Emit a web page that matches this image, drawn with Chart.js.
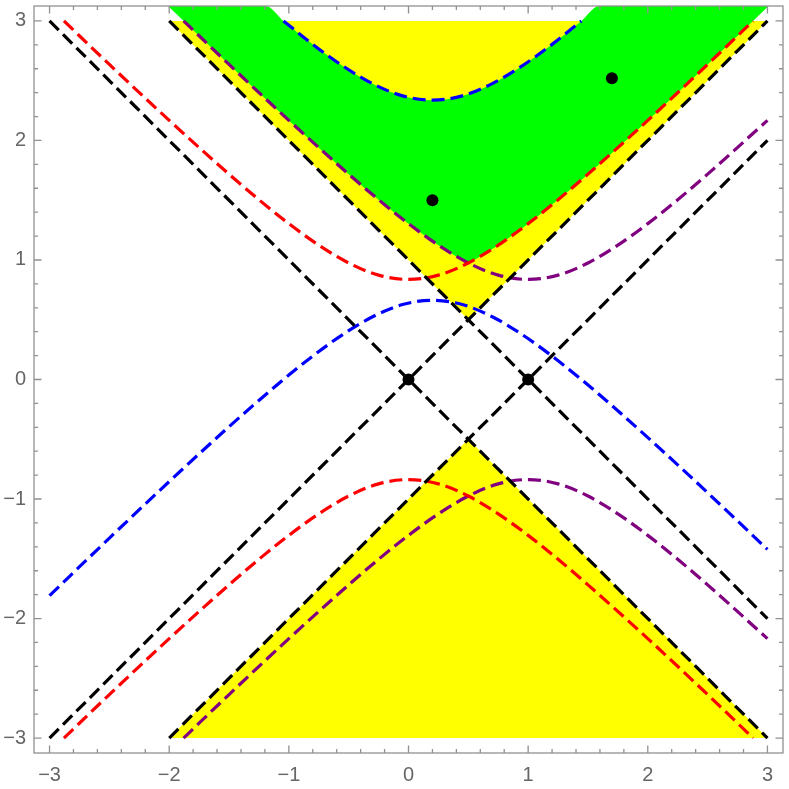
<!DOCTYPE html>
<html>
<head>
<meta charset="utf-8">
<script src="https://cdn.jsdelivr.net/npm/chart.js@4.4.1/dist/chart.umd.min.js"></script>
<style>
  html, body { margin: 0; padding: 0; background: #fff; }
</style>
</head>
<body>
<canvas id="chart" width="789" height="789"></canvas>
<script>
// оси
const tickValues = [-3, -2, -1, 0, 1, 2, 3];
const tickLabels = ['−3', '−2', '−1', '0', '1', '2', '3'];

// заливки
const yellowTop = [[-2, 3], [0.5, 0.5], [3, 3]];
const yellowBottom = [[-2, -3], [0.5, -0.5], [3, -3]];
const greenLower = [[-2.01, 3.125], [-1.5, 2.636], [-1, 2.168], [-0.5, 1.718], [-0.25, 1.504], [0, 1.304], [0.25, 1.124], [0.4, 1.030], [0.45, 1.001], [0.5, 0.975], [0.55, 1.001], [0.6, 1.030], [0.75, 1.124], [1, 1.304], [1.25, 1.504], [1.5, 1.718], [2, 2.168], [2.5, 2.636], [3.01, 3.125]];
const greenUpper = [[-2.01, 3.125], [-1.193, 3.125], [-1.045, 3.0], [-0.8, 2.804], [-0.55, 2.624], [-0.3, 2.475], [-0.05, 2.373], [0.2, 2.337], [0.45, 2.373], [0.7, 2.475], [0.95, 2.624], [1.2, 2.804], [1.445, 3.0], [1.593, 3.125], [3.01, 3.125]];

// черные прямые
const blackA = [[-3, -3], [3, 3]];
const blackB = [[-3, 3], [3, -3]];
const blackC = [[-2, -3], [3, 2]];
const blackD = [[-2, 3], [3, -2]];

// кривые
const redTop = [[-2.88, 3.0], [-2.5, 2.636], [-2, 2.168], [-1.5, 1.718], [-1.25, 1.504], [-1, 1.304], [-0.75, 1.124], [-0.5, 0.975], [-0.25, 0.873], [0, 0.837], [0.25, 0.873], [0.5, 0.975], [0.75, 1.124], [1, 1.304], [1.25, 1.504], [1.5, 1.718], [2, 2.168], [2.5, 2.636], [2.88, 3.0]];
const redBottom = [[-2.88, -3.0], [-2.5, -2.636], [-2, -2.168], [-1.5, -1.718], [-1.25, -1.504], [-1, -1.304], [-0.75, -1.124], [-0.5, -0.975], [-0.25, -0.873], [0, -0.837], [0.25, -0.873], [0.5, -0.975], [0.75, -1.124], [1, -1.304], [1.25, -1.504], [1.5, -1.718], [2, -2.168], [2.5, -2.636], [2.88, -3.0]];
const purpleTop = [[-1.88, 3.0], [-1.5, 2.636], [-1, 2.168], [-0.5, 1.718], [-0.25, 1.504], [0, 1.304], [0.25, 1.124], [0.5, 0.975], [0.75, 0.873], [1, 0.837], [1.25, 0.873], [1.5, 0.975], [1.75, 1.124], [2, 1.304], [2.25, 1.504], [2.5, 1.718], [3, 2.168]];
const purpleBottom = [[-1.88, -3.0], [-1.5, -2.636], [-1, -2.168], [-0.5, -1.718], [-0.25, -1.504], [0, -1.304], [0.25, -1.124], [0.5, -0.975], [0.75, -0.873], [1, -0.837], [1.25, -0.873], [1.5, -0.975], [1.75, -1.124], [2, -1.304], [2.25, -1.504], [2.5, -1.718], [3, -2.168]];
const blueTop = [[-1.045, 3.0], [-0.8, 2.804], [-0.55, 2.624], [-0.3, 2.475], [-0.05, 2.373], [0.2, 2.337], [0.45, 2.373], [0.7, 2.475], [0.95, 2.624], [1.2, 2.804], [1.445, 3.0]];
const blueBottom = [[-3, -1.808], [-2.5, -1.327], [-2, -0.854], [-1.5, -0.395], [-1.05, -0.004], [-0.8, 0.196], [-0.55, 0.376], [-0.3, 0.525], [-0.05, 0.627], [0.2, 0.663], [0.45, 0.627], [0.7, 0.525], [0.95, 0.376], [1.2, 0.196], [1.45, -0.004], [1.7, -0.218], [2.2, -0.668], [2.7, -1.136], [3, -1.422]];

// точки
const dots = [[0, 0], [1, 0], [0.2, 1.5], [1.7, 2.52]];

const toPts = arr => arr.map(([x, y]) => ({x: x, y: y}));

function dashed(data, color, smooth) {
    return {
        data: toPts(data),
        showLine: true,
        borderColor: color,
        borderWidth: 3.2,
        borderDash: [13, 6],
        borderCapStyle: 'butt',
        pointRadius: 0,
        fill: false,
        cubicInterpolationMode: smooth ? 'monotone' : 'default',
        order: 5
    };
}

// рамка и засечки внутрь
const framePlugin = {
    id: 'frame',
    afterDraw(chart) {
        const {ctx, chartArea: a, scales: {x, y}} = chart;
        ctx.save();
        ctx.strokeStyle = '#919191';
        ctx.lineWidth = 1.3;
        ctx.strokeRect(a.left, a.top, a.right - a.left, a.bottom - a.top);
        ctx.beginPath();
        for (let i = -15; i <= 15; i++) {
            const v = i / 5;
            const len = i % 5 === 0 ? 7.5 : 4;
            const px = x.getPixelForValue(v);
            ctx.moveTo(px, a.bottom); ctx.lineTo(px, a.bottom - len);
            ctx.moveTo(px, a.top); ctx.lineTo(px, a.top + len);
            const py = y.getPixelForValue(v);
            ctx.moveTo(a.left, py); ctx.lineTo(a.left + len, py);
            ctx.moveTo(a.right, py); ctx.lineTo(a.right - len, py);
        }
        ctx.stroke();
        ctx.restore();
    }
};

function zeroPad(scale) {
    scale.paddingTop = 0;
    scale.paddingBottom = 0;
    scale.paddingLeft = 0;
    scale.paddingRight = 0;
}

const tickFont = {family: '"Liberation Sans", Arial, sans-serif', size: 20};

new Chart(document.getElementById('chart'), {
    type: 'scatter',
    data: {
        datasets: [
            {data: toPts(greenLower), showLine: true, borderWidth: 0, borderColor: 'rgba(0,0,0,0)', pointRadius: 0,
             backgroundColor: '#00ff00', fill: 1, cubicInterpolationMode: 'monotone', order: 9},
            {data: toPts(greenUpper), showLine: true, borderWidth: 0, borderColor: 'rgba(0,0,0,0)', pointRadius: 0,
             fill: false, cubicInterpolationMode: 'monotone', order: 9},
            {data: toPts(yellowTop), showLine: true, borderWidth: 0, borderColor: 'rgba(0,0,0,0)', pointRadius: 0,
             backgroundColor: '#ffff00', fill: {value: 3}, order: 10},
            {data: toPts(yellowBottom), showLine: true, borderWidth: 0, borderColor: 'rgba(0,0,0,0)', pointRadius: 0,
             backgroundColor: '#ffff00', fill: {value: -3}, order: 10},
            dashed(blackA, '#000000', false),
            dashed(blackB, '#000000', false),
            dashed(blackC, '#000000', false),
            dashed(blackD, '#000000', false),
            dashed(redTop, '#ff0000', true),
            dashed(redBottom, '#ff0000', true),
            dashed(purpleTop, '#800080', true),
            dashed(purpleBottom, '#800080', true),
            dashed(blueTop, '#0000ff', true),
            dashed(blueBottom, '#0000ff', true),
            {data: toPts(dots), showLine: false, pointRadius: 6, pointBackgroundColor: '#000000',
             pointBorderWidth: 0, order: 0}
        ]
    },
    options: {
        responsive: false,
        animation: false,
        events: [],
        layout: {padding: {top: 1, right: 1.5, left: 0, bottom: 0}},
        plugins: {
            legend: {display: false},
            tooltip: {enabled: false},
            filler: {drawTime: 'beforeDatasetsDraw'}
        },
        scales: {
            x: {
                type: 'linear',
                min: -3.13,
                max: 3.13,
                afterBuildTicks: s => { s.ticks = tickValues.map(v => ({value: v})); },
                afterFit: s => { s.height = 36; zeroPad(s); },
                grid: {display: false, drawTicks: false},
                border: {display: false},
                ticks: {
                    callback: v => tickLabels[tickValues.indexOf(v)],
                    color: '#666666',
                    font: tickFont,
                    padding: 10,
                    maxRotation: 0,
                    autoSkip: false
                }
            },
            y: {
                type: 'linear',
                min: -3.125,
                max: 3.125,
                afterBuildTicks: s => { s.ticks = tickValues.map(v => ({value: v})); },
                afterFit: s => { s.width = 34; zeroPad(s); },
                grid: {display: false, drawTicks: false},
                border: {display: false},
                ticks: {
                    callback: v => tickLabels[tickValues.indexOf(v)],
                    color: '#666666',
                    font: tickFont,
                    padding: 8,
                    autoSkip: false
                }
            }
        }
    },
    plugins: [framePlugin]
});
</script>
</body>
</html>
